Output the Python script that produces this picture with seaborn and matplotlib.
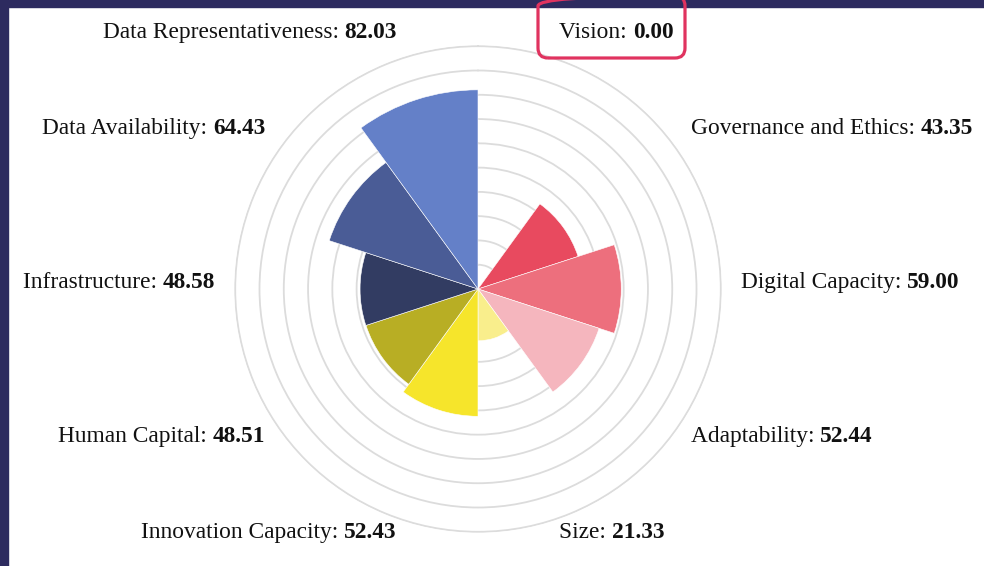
import numpy as np
import seaborn as sns
import matplotlib.pyplot as plt
from matplotlib.patches import Rectangle, FancyBboxPatch
from matplotlib.transforms import ScaledTranslation

# --- data (clockwise from 12 o'clock) ---
categories = ["Vision", "Governance and Ethics", "Digital Capacity", "Adaptability",
              "Size", "Innovation Capacity", "Human Capital", "Infrastructure",
              "Data Availability", "Data Representativeness"]
scores = [0.00, 43.35, 59.00, 52.44, 21.33, 52.43, 48.51, 48.58, 64.43, 82.03]
colors = ["#F6E27A", "#E84A5F", "#ED6F7D", "#F5B6BE", "#F9EE8C",
          "#F6E52B", "#B8AE24", "#323C62", "#4A5C96", "#6480C8"]

sns.set_theme(style="white")
plt.rcParams["font.family"] = ["Liberation Serif", "DejaVu Serif"]

fig = plt.figure(figsize=(9.84, 5.66), dpi=100, facecolor="white")
ax = fig.add_axes([234 / 984, 33 / 566, 488 / 984, 488 / 566], projection="polar")
ax.set_theta_zero_location("N")
ax.set_theta_direction(-1)

n = len(categories)
width = 2 * np.pi / n
theta = np.arange(n) * width + width / 2
palette = sns.color_palette(colors)

ax.bar(theta, scores, width=width, color=palette, edgecolor="white",
       linewidth=0.4, zorder=3)

# grid: concentric rings only
ax.set_ylim(0, 100.5)
ax.set_rgrids(range(10, 101, 10), labels=[])
ax.set_thetagrids([], labels=[])
ax.yaxis.grid(True, color="#dcdcdc", linewidth=1.3)
ax.xaxis.grid(False)
ax.spines["polar"].set_visible(False)
ax.set_facecolor("none")
ax.set_axisbelow(True)

# --- labels: "Name: " regular + value bold ---
fs = 16.8
lift = ax.transData + ScaledTranslation(0, 0.065, fig.dpi_scale_trans)
for t, name, val in zip(theta, categories, scores):
    right_side = np.sin(t) > 0
    if right_side:
        first = ax.text(t, 108.2, name + ": ", ha="left", va="center",
                        fontsize=fs, color="#111111", transform=lift, clip_on=False)
        ax.annotate(f"{val:.2f}", xy=(1, 0.5), xycoords=first, ha="left", va="center",
                    fontsize=fs, fontweight="bold", color="#111111")
    else:
        first = ax.text(t, 108.2, f"{val:.2f}", ha="right", va="center",
                        fontsize=fs, fontweight="bold", color="#111111",
                        transform=lift, clip_on=False)
        ax.annotate(name + ": ", xy=(0, 0.5), xycoords=first, ha="right", va="center",
                    fontsize=fs, color="#111111")

# --- frame bands and highlight box ---
navy = "#2D2B5F"
fig.add_artist(Rectangle((0, 1 - 7 / 566), 1, 7 / 566, transform=fig.transFigure,
                         color=navy, zorder=5))
fig.add_artist(Rectangle((0, 0), 8 / 984, 1, transform=fig.transFigure,
                         color=navy, zorder=5))
fig.add_artist(FancyBboxPatch((5.38, 5.08), 1.47, 0.62,
                              boxstyle="round,pad=0,rounding_size=0.1",
                              transform=fig.dpi_scale_trans, facecolor="none",
                              edgecolor="#E0335F", linewidth=2.3, zorder=6))

fig.savefig("out.png", dpi=100, facecolor="white")
